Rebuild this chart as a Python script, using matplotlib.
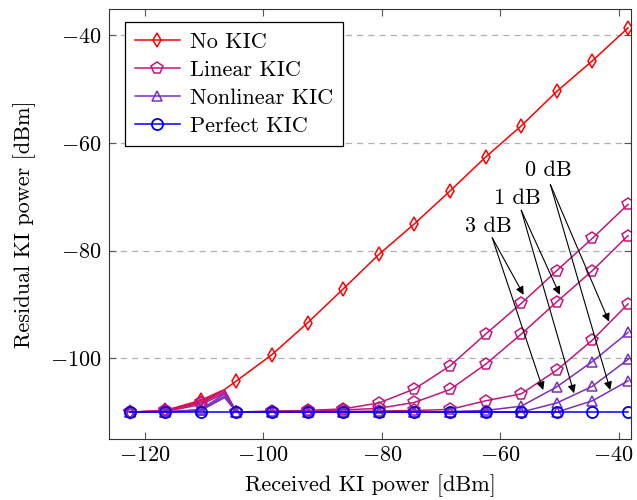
import matplotlib
matplotlib.use("Agg")
import matplotlib.pyplot as plt
import matplotlib.transforms as mtransforms

plt.rcParams["font.family"] = "serif"
plt.rcParams["font.serif"] = ["cmr10", "DejaVu Serif"]
plt.rcParams["mathtext.fontset"] = "cm"
plt.rcParams["axes.formatter.use_mathtext"] = True
plt.rcParams["axes.unicode_minus"] = True

# received KI power [dBm]; index 3 is an extra point without marker
x = [-122.5, -116.5, -110.5, -106.5, -104.5, -98.5, -92.5, -86.5, -80.5,
     -74.5, -68.5, -62.5, -56.5, -50.5, -44.5, -38.5]
marks = [0, 1, 2, 4, 5, 6, 7, 8, 9, 10, 11, 12, 13, 14, 15]

no_kic = [-110, -109.7, -107.8, -105.8, -104.2, -99.3, -93.4, -87.1, -80.7,
          -75.0, -68.9, -62.6, -56.8, -50.4, -44.7, -38.6]

lin_3db = [-110, -109.7, -108.1, -105.9, -110, -109.8, -109.7, -109.4, -108.3,
           -105.7, -101.4, -95.5, -89.8, -83.7, -77.7, -71.4]
lin_1db = [-110, -109.8, -108.3, -106.2, -110, -109.9, -109.8, -109.6, -109.3,
           -108.2, -105.8, -101.1, -95.5, -89.5, -83.7, -77.2]
lin_0db = [-110, -109.9, -108.6, -106.5, -110, -110, -110, -109.9, -109.8,
           -109.7, -109.5, -107.9, -106.6, -102.2, -96.6, -89.9]

nl_3db = [-110, -110, -109.5, -106.6, -110, -110, -110, -110, -110,
          -110, -109.9, -109.7, -108.9, -105.3, -100.6, -95.2]
nl_1db = [-110, -110, -109.6, -107.0, -110, -110, -110, -110, -110,
          -110, -110, -110, -110, -108.3, -105.2, -100.2]
nl_0db = [-110, -110, -109.7, -107.3, -110, -110, -110, -110, -110,
          -110, -110, -110, -110, -110, -107.9, -104.2]

perfect = [-110] * 16

c_no = "#ff0000"
c_lin = "#c2177a"
c_nl = "#7b2fbf"
c_pf = "#0000ff"

fs = 16

fig = plt.figure(figsize=(6.37, 5.0), dpi=100)
ax = fig.add_axes([0.171, 0.122, 0.8196, 0.861])

lw = 1.1
ax.plot(x, no_kic, color=c_no, lw=lw, marker="d", ms=7.5, mfc="none", mew=1.1,
        markevery=marks, label="No KIC")
for i, y in enumerate([lin_3db, lin_1db, lin_0db]):
    ax.plot(x, y, color=c_lin, lw=lw, marker="p", ms=8.5, mfc="none", mew=1.1,
            markevery=marks, label="Linear KIC" if i == 0 else None)
for i, y in enumerate([nl_3db, nl_1db, nl_0db]):
    ax.plot(x, y, color=c_nl, lw=lw, marker="^", ms=7.5, mfc="none", mew=1.1,
            markevery=marks, label="Nonlinear KIC" if i == 0 else None)
ax.plot(x, perfect, color=c_pf, lw=lw, marker="o", ms=8, mfc="none", mew=1.3,
        markevery=marks, label="Perfect KIC")

# annotations
arrow = dict(arrowstyle="-|>", color="black", lw=0.8, mutation_scale=12,
             shrinkA=0, shrinkB=0)
labels = [("0 dB", (-52.0, -65.1), (-51.6, -67.7), [(-41.7, -93.2), (-41.5, -105.9)]),
          ("1 dB", (-57.2, -70.3), (-56.5, -72.5), [(-50.0, -88.2), (-47.6, -106.5)]),
          ("3 dB", (-62.1, -75.4), (-61.4, -77.6), [(-56.1, -88.2), (-52.8, -105.9)])]
for txt, tpos, start, ends in labels:
    ax.text(tpos[0], tpos[1], txt, ha="center", va="center", fontsize=fs)
    for e in ends:
        ax.annotate("", xy=e, xytext=start, arrowprops=arrow)

ax.set_xlim(-126, -38)
ax.set_ylim(-115, -35)
ax.set_xticks([-120, -100, -80, -60, -40])
ax.set_yticks([-100, -80, -60, -40])
ax.yaxis.grid(True, ls=(0, (5, 4)), color="#b0b0b0", lw=0.9)
ax.set_axisbelow(True)
ax.tick_params(direction="in", top=True, right=True, labelsize=fs,
               length=5, color="#555555", pad=5)
for s in ax.spines.values():
    s.set_color("#333333")

# keep the last x tick label inside the figure
last = ax.get_xticklabels()[-1]
last.set_transform(last.get_transform() +
                   mtransforms.ScaledTranslation(-4 / 72, 0, fig.dpi_scale_trans))

ax.set_xlabel("Received KI power [dBm]", fontsize=fs, labelpad=6)
ax.set_ylabel("Residual KI power [dBm]", fontsize=fs, labelpad=10)

leg = ax.legend(loc="upper left", bbox_to_anchor=(0.031, 0.968), borderaxespad=0,
                fontsize=fs, fancybox=False, framealpha=1, edgecolor="black",
                handlelength=2.0, handletextpad=0.45, labelspacing=0.38,
                borderpad=0.45)
leg.get_frame().set_linewidth(0.9)

fig.savefig("out.png", dpi=100)
